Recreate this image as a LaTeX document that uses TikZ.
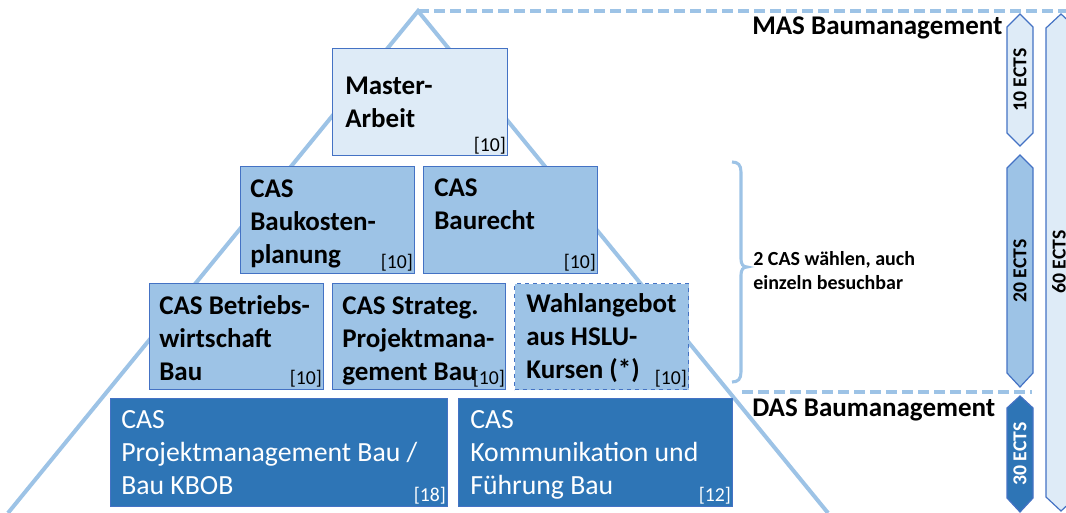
\documentclass[tikz,border=0pt]{standalone}
\usepackage{fontspec}
\setmainfont{Carlito}
\usetikzlibrary{calc}
\definecolor{lightfill}{HTML}{DEEBF7}
\definecolor{midfill}{HTML}{9DC3E6}
\definecolor{darkfill}{HTML}{2E75B6}
\definecolor{edgeblue}{HTML}{4472C4}
\definecolor{guide}{HTML}{9DC3E6}
\begin{document}
\begin{tikzpicture}[x=0.75pt,y=-0.75pt,
  pbox/.style 2 args={draw=edgeblue, line width=0.9pt, anchor=north west, inner sep=0pt,
    minimum width=#1*0.75pt, minimum height=#2*0.75pt},
  boxtext/.style={anchor=north west, inner sep=0pt, align=left,
    font=\fontsize{20.25}{24.75}\selectfont\bfseries},
  darktext/.style={boxtext, font=\fontsize{20.8}{24.75}\selectfont, text=white},
  credit/.style={anchor=base east, inner sep=0pt, font=\fontsize{14.8}{17}\selectfont},
  guideline/.style={draw=guide, line width=3pt},
  dashline/.style={draw=guide, line width=3pt, dash pattern=on 8pt off 4pt},
  heading/.style={anchor=base west, inner sep=0pt, font=\fontsize{20.25}{24}\selectfont\bfseries},
  sidetext/.style={anchor=north west, inner sep=0pt, align=left, font=\fontsize{15}{18}\selectfont\bfseries},
  ectsshape/.style={draw=edgeblue, line width=0.9pt, line join=miter},
  ectstext/.style={rotate=90, inner sep=0pt, font=\fontsize{14.8}{17}\selectfont\bfseries}
]
\useasboundingbox (0,0) rectangle (1066,513);

% pyramid outline
\coordinate (apex) at (418,11);
\coordinate (baseL) at (8,513);
\coordinate (baseR) at (828,513);
\draw[guideline, line join=miter] (baseL) -- (apex) -- (baseR);

% dashed separators
\coordinate (masend) at (1066,11);
\coordinate (dasstart) at (742,392);
\coordinate (dasend) at (1032,392);
\draw[dashline] (apex) -- (masend);
\draw[dashline] (dasstart) -- (dasend);

% Master
\node[pbox={175}{107}, fill=lightfill] (ma) at (332,48) {};
\node[boxtext] (mat) at (345,71) {\strut Master-\\Arbeit};
\node[credit] (mac) at ($(ma.south east)+(-2,-5)$) {[10]};

% row 2
\node[pbox={174}{107}, fill=midfill] (bk) at (240,166) {};
\node[boxtext] (bkt) at (250,174) {\strut CAS\\Baukosten-\\planung};
\node[credit] (bkc) at ($(bk.south east)+(-2,-6)$) {[10]};

\node[pbox={174}{107}, fill=midfill] (br) at (423,166) {};
\node[boxtext] (brt) at (434,173) {\strut CAS\\Baurecht};
\node[credit] (brc) at ($(br.south east)+(-2,-6)$) {[10]};

% row 3
\node[pbox={174}{106}, fill=midfill] (bw) at (149,283) {};
\node[boxtext] (bwt) at (159,291) {\strut CAS Betriebs-\\wirtschaft\\Bau};
\node[credit] (bwc) at ($(bw.south east)+(-2,-6)$) {[10]};

\node[pbox={173}{106}, fill=midfill] (sp) at (332,283) {};
\node[boxtext] (spt) at (342,291) {\strut CAS Strateg.\\Projektmana-\\gement Bau};
\node[credit] (spc) at ($(sp.south east)+(-1,-6)$) {[10]};

\node[pbox={174}{106}, fill=midfill, dashed] (wa) at (514,283) {};
\node[boxtext] (wat) at (526,289) {\strut Wahlangebot\\aus HSLU-\\Kursen (*)};
\node[credit] (wac) at ($(wa.south east)+(-2,-6)$) {[10]};

% row 4
\node[pbox={337}{108}, fill=darkfill] (pm) at (110,398) {};
\node[darktext] (pmt) at (121,405) {\strut CAS\\Projektmanagement Bau /\\Bau KBOB};
\node[credit, text=white] (pmc) at ($(pm.south east)+(-2,-6)$) {[18]};

\node[pbox={274}{108}, fill=darkfill] (kf) at (458,398) {};
\node[darktext] (kft) at (470,405) {\strut CAS\\Kommunikation und\\Führung Bau};
\node[credit, text=white] (kfc) at ($(kf.south east)+(-2,-6)$) {[12]};

% brace
\draw[draw=guide, line width=2.3pt] (732,162) .. controls (738,162) and (741,165) .. (741,172)
  -- (741,259) .. controls (741,264) and (743,267) .. (747,267)
  .. controls (743,267) and (741,270) .. (741,275)
  -- (741,372) .. controls (741,379) and (738,382) .. (732,382);
\node[sidetext] (choose) at (753,248) {\strut 2 CAS wählen, auch\\einzeln besuchbar};

% headings
\node[heading] (mas) at (752,35) {MAS Baumanagement};
\node[heading] (das) at (752,416) {DAS Baumanagement};

% ECTS bars
\path[ectsshape, fill=lightfill] (1020,14) -- (1033,27) -- (1033,133) -- (1020,146) -- (1007,133) -- (1007,27) -- cycle;
\node[ectstext] (e10) at (1020,80) {10 ECTS};

\path[ectsshape, fill=midfill] (1020,155) -- (1033,168) -- (1033,373) -- (1020,387) -- (1007,373) -- (1007,168) -- cycle;
\node[ectstext] (e20) at (1020,271) {20 ECTS};

\path[ectsshape, fill=darkfill] (1020,396) -- (1033,408) -- (1033,498) -- (1020,512) -- (1007,498) -- (1007,408) -- cycle;
\node[ectstext, text=white] (e30) at (1020,454) {30 ECTS};

\path[ectsshape, fill=lightfill] (1061,14) -- (1076,28) -- (1076,497) -- (1061,511) -- (1046,497) -- (1046,28) -- cycle;
\node[ectstext] (e60) at (1059,262) {60 ECTS};
\end{tikzpicture}
\end{document}
